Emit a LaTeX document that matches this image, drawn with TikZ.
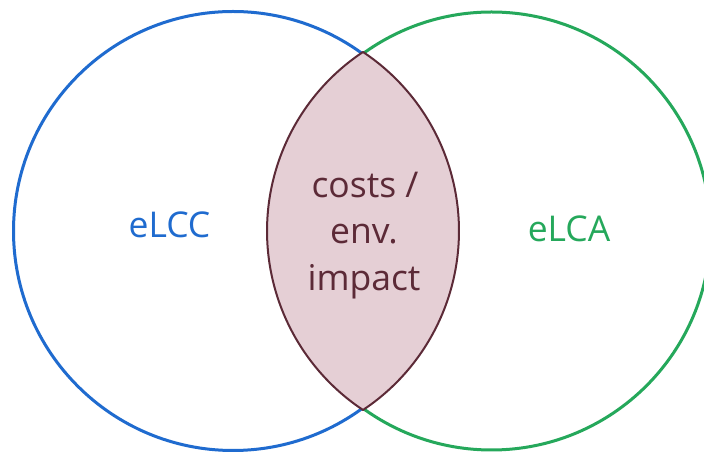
\documentclass[tikz,border=0pt]{standalone}
\usepackage{fontspec}
\setmainfont{Open Sans}
\definecolor{cblue}{HTML}{1F6BCF}
\definecolor{cgreen}{HTML}{25A85B}
\definecolor{lensfill}{HTML}{E5CFD5}
\definecolor{lensline}{HTML}{5C2A37}
\begin{document}
\begin{tikzpicture}[x=1pt,y=1pt,
  ring/.style={line width=3pt},
  lbl/.style={anchor=base,inner sep=0pt,font=\fontsize{35.5}{40}\selectfont}]
\useasboundingbox[fill=white] (0,0) rectangle (704,452);
\draw[ring,cblue] (233,221) circle[radius=219.5];
\draw[ring,cgreen] (491.5,221) circle[radius=219];
\draw[line width=2pt,lensline,fill=lensfill,line join=round]
  (363,400) arc[start angle=123.6,end angle=236.4,radius=214.9]
  arc[start angle=-56.4,end angle=56.4,radius=214.9] -- cycle;
\node[lbl,text=cblue] (elcc) at (169.5,214.7) {eLCC};
\node[lbl,text=cgreen] (elca) at (569,210.3) {eLCA};
\node[lbl,text=lensline] (l1) at (365,254) {costs /};
\node[lbl,text=lensline] (l2) at (364,208) {env.};
\node[lbl,text=lensline] (l3) at (364,161) {impact};
\end{tikzpicture}
\end{document}
